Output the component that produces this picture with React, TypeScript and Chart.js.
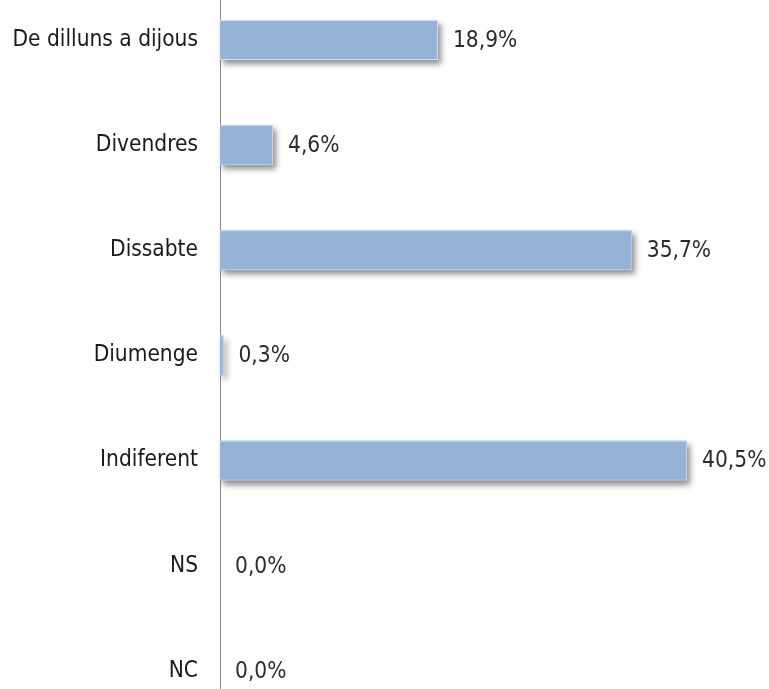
import React, { useEffect, useRef } from "react";
import { Chart, registerables } from "chart.js";

Chart.register(...registerables);

const categories = [
  "De dilluns a dijous",
  "Divendres",
  "Dissabte",
  "Diumenge",
  "Indiferent",
  "NS",
  "NC",
];
const values = [18.9, 4.6, 35.7, 0.3, 40.5, 0.0, 0.0];
const valueLabels = ["18,9%", "4,6%", "35,7%", "0,3%", "40,5%", "0,0%", "0,0%"];

const FONT = '"DejaVu Sans Condensed", "Liberation Sans Narrow", sans-serif';
const FONT_SIZE = 22.5;

const shadowPlugin = {
  id: "barShadow",
  beforeDatasetsDraw(chart: any) {
    const ctx = chart.ctx;
    const meta = chart.getDatasetMeta(0);
    ctx.save();
    ctx.shadowColor = "rgba(0,0,0,0.45)";
    ctx.shadowBlur = 6;
    ctx.shadowOffsetX = 3;
    ctx.shadowOffsetY = 4;
    ctx.fillStyle = "#95B3D7";
    meta.data.forEach((bar: any) => {
      const w = bar.x - bar.base;
      if (w <= 0.5) return;
      ctx.fillRect(bar.base, bar.y - bar.height / 2, w, bar.height);
    });
    ctx.restore();
  },
};

const labelPlugin = {
  id: "valueLabels",
  afterDraw(chart: any) {
    const ctx = chart.ctx;
    const meta = chart.getDatasetMeta(0);
    ctx.save();
    ctx.font = `${FONT_SIZE}px ${FONT}`;
    ctx.fillStyle = "#2B2B2B";
    ctx.textAlign = "left";
    ctx.textBaseline = "middle";
    meta.data.forEach((bar: any, i: number) => {
      ctx.fillText(valueLabels[i], bar.x + 15, bar.y + 1);
    });
    ctx.restore();
  },
};

export default function App() {
  const ref = useRef<HTMLCanvasElement>(null);
  useEffect(() => {
    if (!ref.current) return;
    const chart = new Chart(ref.current, {
      type: "bar",
      data: {
        labels: categories,
        datasets: [
          {
            data: values,
            backgroundColor: "#95B3D7",
            borderColor: "#D0DEEF",
            borderWidth: 1,
            barPercentage: 0.38,
            categoryPercentage: 1,
          },
        ],
      },
      options: {
        indexAxis: "y",
        animation: false,
        responsive: false,
        maintainAspectRatio: false,
        layout: { padding: 0 },
        plugins: {
          legend: { display: false },
          tooltip: { enabled: false },
        },
        scales: {
          x: {
            display: false,
            min: 0,
            max: 47.6,
          },
          y: {
            afterFit: (scale: any) => {
              scale.width = 220;
            },
            grid: { display: false, drawTicks: false },
            border: { display: true, color: "#8C8C8C", width: 1 },
            ticks: {
              padding: 22,
              color: "#1A1A1A",
              font: { family: FONT, size: FONT_SIZE, lineHeight: 1.2 },
            },
          },
        },
      },
      plugins: [shadowPlugin, labelPlugin],
    });
    return () => chart.destroy();
  }, []);
  return (
    <div
      style={{
        position: "fixed",
        left: 0,
        top: 0,
        width: 769,
        height: 689,
        overflow: "hidden",
        background: "#ffffff",
      }}
    >
      <canvas
        ref={ref}
        width={769}
        height={807}
        style={{ position: "absolute", left: 0, top: -48, width: 769, height: 807 }}
      />
    </div>
  );
}
